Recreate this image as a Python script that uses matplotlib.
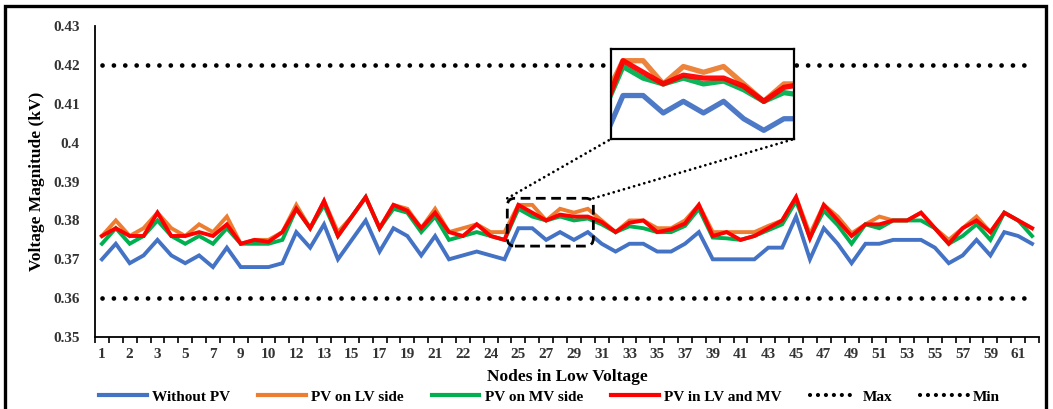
import numpy as np
import matplotlib.pyplot as plt
from matplotlib.patches import FancyBboxPatch, Rectangle, ConnectionPatch
from matplotlib.lines import Line2D

plt.rcParams['font.family'] = ['Liberation Serif', 'DejaVu Serif']
plt.rcParams['font.weight'] = 'bold'
plt.rcParams['axes.labelweight'] = 'bold'

# node labels written under every second node
tick_labels = ['1', '2', '3', '5', '7', '9', '10', '12', '13', '15', '17', '19',
               '21', '22', '24', '25', '27', '29', '31', '33', '35', '37', '39',
               '41', '43', '45', '47', '49', '51', '53', '55', '57', '59', '61']

without_pv = [0.370, 0.374, 0.369, 0.371, 0.375, 0.371, 0.369, 0.371, 0.368, 0.373,
              0.368, 0.368, 0.368, 0.369, 0.377, 0.373, 0.379, 0.370, 0.375, 0.380,
              0.372, 0.378, 0.376, 0.371, 0.376, 0.370, 0.371, 0.372, 0.371, 0.370,
              0.378, 0.378, 0.375, 0.377, 0.375, 0.377, 0.374, 0.372, 0.374, 0.374,
              0.372, 0.372, 0.374, 0.377, 0.370, 0.370, 0.370, 0.370, 0.373, 0.373,
              0.381, 0.370, 0.378, 0.374, 0.369, 0.374, 0.374, 0.375, 0.375, 0.375,
              0.373, 0.369, 0.371, 0.375, 0.371, 0.377, 0.376, 0.374]

pv_lv = [0.376, 0.380, 0.376, 0.378, 0.382, 0.378, 0.376, 0.379, 0.377, 0.381,
         0.374, 0.375, 0.375, 0.377, 0.384, 0.378, 0.385, 0.377, 0.381, 0.386,
         0.378, 0.384, 0.383, 0.378, 0.383, 0.377, 0.378, 0.379, 0.377, 0.377,
         0.384, 0.384, 0.380, 0.383, 0.382, 0.383, 0.380, 0.377, 0.380, 0.380,
         0.378, 0.378, 0.380, 0.384, 0.377, 0.377, 0.377, 0.377, 0.3786, 0.380,
         0.386, 0.3765, 0.384, 0.381, 0.3767, 0.379, 0.381, 0.380, 0.380, 0.382,
         0.378, 0.375, 0.378, 0.381, 0.377, 0.382, 0.380, 0.378]

pv_mv = [0.374, 0.378, 0.374, 0.376, 0.380, 0.376, 0.374, 0.376, 0.374, 0.378,
         0.374, 0.374, 0.374, 0.375, 0.383, 0.378, 0.384, 0.376, 0.381, 0.386,
         0.378, 0.383, 0.382, 0.377, 0.381, 0.375, 0.376, 0.377, 0.376, 0.375,
         0.383, 0.381, 0.380, 0.381, 0.380, 0.3805, 0.379, 0.377, 0.3785, 0.378,
         0.377, 0.377, 0.3786, 0.383, 0.3756, 0.3754, 0.375, 0.376, 0.3775, 0.379,
         0.385, 0.3756, 0.3825, 0.3788, 0.374, 0.379, 0.378, 0.380, 0.380, 0.380,
         0.378, 0.374, 0.376, 0.379, 0.375, 0.382, 0.380, 0.376]

pv_lv_mv = [0.376, 0.378, 0.376, 0.376, 0.382, 0.376, 0.376, 0.377, 0.376, 0.379,
            0.374, 0.375, 0.3745, 0.377, 0.383, 0.378, 0.385, 0.376, 0.381, 0.386,
            0.378, 0.384, 0.3825, 0.378, 0.382, 0.377, 0.376, 0.379, 0.376, 0.375,
            0.384, 0.382, 0.380, 0.3815, 0.381, 0.381, 0.3796, 0.377, 0.3794, 0.380,
            0.377, 0.3777, 0.3792, 0.384, 0.376, 0.377, 0.375, 0.376, 0.378, 0.380,
            0.386, 0.3754, 0.384, 0.380, 0.376, 0.379, 0.379, 0.380, 0.380, 0.382,
            0.378, 0.374, 0.378, 0.380, 0.377, 0.382, 0.380, 0.378]

v_max = 0.42
v_min = 0.36

series = [
    (without_pv, 'Without PV', '#4472C4'),
    (pv_lv, 'PV on LV side', '#ED7D31'),
    (pv_mv, 'PV on MV side', '#00B050'),
    (pv_lv_mv, 'PV in LV and MV', '#FF0000'),
]

nodes = np.arange(len(without_pv))
dots = (0, (0.01, 2.4))

fig = plt.figure(figsize=(10.53, 4.09), dpi=100)
ax = fig.add_axes([0.0902, 0.176, 0.8965, 0.760])

for vals, name, col in series:
    ax.plot(nodes, vals, color=col, lw=2.8, solid_joinstyle='miter')
ax.plot(nodes, [v_max] * len(nodes), color='black', lw=3.4, linestyle=dots,
        dash_capstyle='round')
ax.plot(nodes, [v_min] * len(nodes), color='black', lw=3.4, linestyle=dots,
        dash_capstyle='round')

ax.set_xlim(-0.5, len(nodes) - 0.5)
ax.set_ylim(0.35, 0.43)
ax.set_yticks(np.arange(0.35, 0.4301, 0.01))
ax.set_yticklabels(['0.35', '0.36', '0.37', '0.38', '0.39', '0.4', '0.41', '0.42', '0.43'])
ax.tick_params(axis='y', length=0, pad=11, labelsize=11, labelcolor='#333333')

# tick marks between nodes, labels on every second node
ax.set_xticks(np.arange(-0.5, len(nodes), 1))
ax.set_xticklabels([])
ax.tick_params(axis='x', which='major', direction='out', length=4, width=1.2)
ax.set_xticks(nodes[::2], minor=True)
ax.set_xticklabels(tick_labels, minor=True)
ax.tick_params(axis='x', which='minor', length=0, pad=8, labelsize=11,
               labelcolor='#333333')

for s in ['top', 'right']:
    ax.spines[s].set_visible(False)
for s in ['left', 'bottom']:
    ax.spines[s].set_linewidth(1.3)

ax.set_ylabel('Voltage Magnitude (kV)', fontsize=12.5, fontweight='bold', labelpad=6)
ax.set_xlabel('Nodes in Low Voltage', fontsize=12.5, fontweight='bold', labelpad=6)

# dashed window around nodes 25-31
x0, x1, y0, y1 = 29.2, 35.4, 0.3734, 0.3857
aspect = (0.08 / 0.760 / 409) / (len(nodes) / 0.8965 / 1053)
box = FancyBboxPatch((x0, y0), x1 - x0, y1 - y0,
                     boxstyle='round,pad=0,rounding_size=0.55',
                     mutation_aspect=aspect, fill=False, ec='black', lw=2,
                     linestyle=(0, (3.5, 2)), zorder=5)
ax.add_patch(box)

# zoomed view
axin = fig.add_axes([0.5802, 0.660, 0.1738, 0.220])
for vals, name, col in series:
    axin.plot(nodes, vals, color=col, lw=3.8, alpha=0.95)
axin.set_xlim(29.4, 38.5)
axin.set_ylim(0.3705, 0.386)
axin.set_xticks([])
axin.set_yticks([])
for s in axin.spines.values():
    s.set_linewidth(1.6)

for xa, xb in [(x0, 0), (x1, 1)]:
    con = ConnectionPatch(xyA=(xa, y1), coordsA=ax.transData,
                          xyB=(xb, 0), coordsB=axin.transAxes,
                          color='black', lw=2, linestyle=(0, (0.01, 1.9)),
                          capstyle='round')
    fig.add_artist(con)

handles = [Line2D([], [], color=c, lw=3) for _, _, c in series]
handles += [Line2D([], [], color='black', lw=3, linestyle=(0, (0.01, 1.9)),
                   dash_capstyle='round')] * 2
labels = [n for _, n, _ in series] + ['Max', 'Min']
fig.legend(handles, labels, loc='center', bbox_to_anchor=(0.522, 0.03), ncol=6,
           frameon=False, fontsize=11, handlelength=3.1, columnspacing=1.85,
           handletextpad=0.35)

# outer frame
fig.add_artist(Rectangle((5 / 1053, -0.05), 1041 / 1053, 1.035, transform=fig.transFigure,
                         fill=False, ec='black', lw=2.4))

fig.savefig('out.png', dpi=100)
